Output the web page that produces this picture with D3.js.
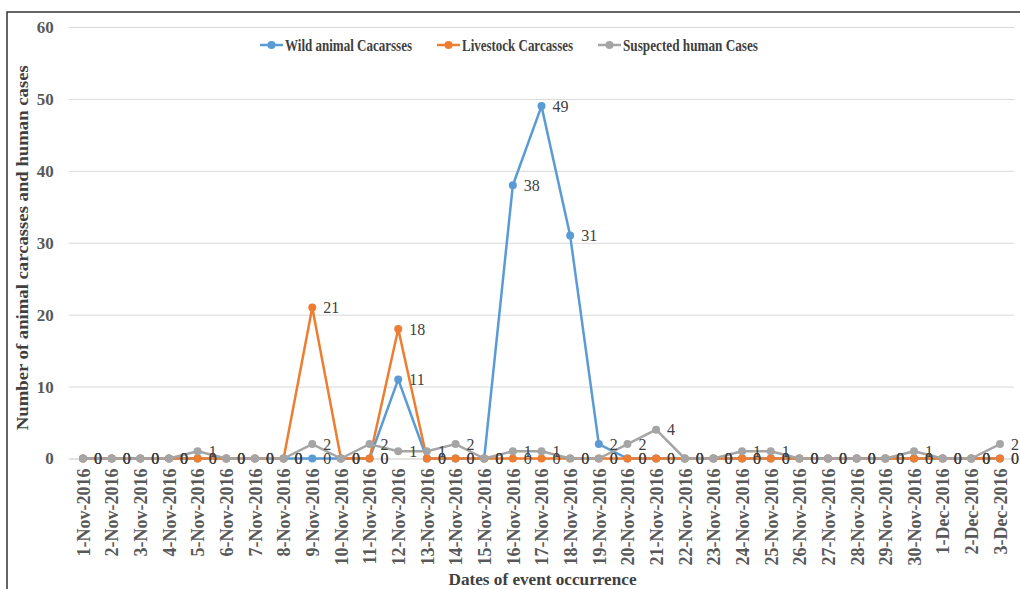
<!DOCTYPE html>
<html>
<head>
<meta charset="utf-8">
<script src="https://cdn.jsdelivr.net/npm/d3@7"></script>
<style>
  body { margin: 0; background: #fff; }
  svg { display: block; }
</style>
</head>
<body>
<svg id="chart" width="1020" height="589"></svg>
<script>
// dates on the x axis
var dates = [
    "1-Nov-2016", "2-Nov-2016", "3-Nov-2016", "4-Nov-2016", "5-Nov-2016",
    "6-Nov-2016", "7-Nov-2016", "8-Nov-2016", "9-Nov-2016", "10-Nov-2016",
    "11-Nov-2016", "12-Nov-2016", "13-Nov-2016", "14-Nov-2016", "15-Nov-2016",
    "16-Nov-2016", "17-Nov-2016", "18-Nov-2016", "19-Nov-2016", "20-Nov-2016",
    "21-Nov-2016", "22-Nov-2016", "23-Nov-2016", "24-Nov-2016", "25-Nov-2016",
    "26-Nov-2016", "27-Nov-2016", "28-Nov-2016", "29-Nov-2016", "30-Nov-2016",
    "1-Dec-2016", "2-Dec-2016", "3-Dec-2016"
];

var wildAnimal = [0, 0, 0, 0, 0, 0, 0, 0, 0, 0, 0, 11, 0, 0, 0, 38, 49, 31, 2, 0,
                  0, 0, 0, 0, 0, 0, 0, 0, 0, 0, 0, 0, 0];
var livestock  = [0, 0, 0, 0, 0, 0, 0, 0, 21, 0, 0, 18, 0, 0, 0, 0, 0, 0, 0, 0,
                  0, 0, 0, 0, 0, 0, 0, 0, 0, 0, 0, 0, 0];
var human      = [0, 0, 0, 0, 1, 0, 0, 0, 2, 0, 2, 1, 1, 2, 0, 1, 1, 0, 0, 2,
                  4, 0, 0, 1, 1, 0, 0, 0, 0, 1, 0, 0, 2];

var seriesNames = ["Wild animal Cacarsses", "Livestock Carcasses", "Suspected human Cases"];
var seriesColors = ["#5B9BD5", "#ED7D31", "#A5A5A5"];
var yTicks = [0, 10, 20, 30, 40, 50, 60];

d3.select(window).on("load", init);

function init() {

    var svg = d3.select("#chart");
    var serif = "'Liberation Serif', 'Times New Roman', serif";

    svg.append("rect")
        .attr("width", 1020).attr("height", 589)
        .attr("fill", "#fff");

    // outer frame (only left and top edges are in view)
    svg.append("rect")
        .attr("x", 7).attr("y", 12)
        .attr("width", 1040).attr("height", 620)
        .attr("fill", "none")
        .attr("stroke", "#333")
        .attr("stroke-width", 1.5);

    var plotLeft = 68.7, plotRight = 1014.3, plotTop = 27, plotBottom = 458.5;

    var x = d3.scalePoint()
        .domain(dates)
        .range([plotLeft, plotRight])
        .padding(0.5);

    var y = d3.scaleLinear()
        .domain([0, 60])
        .range([plotBottom, plotTop]);

    // y axis with gridlines
    var yAxis = svg.append("g")
        .attr("transform", "translate(" + plotLeft + ",0)")
        .call(d3.axisLeft(y)
            .tickValues(yTicks)
            .tickSize(-(plotRight - plotLeft))
            .tickPadding(15));
    yAxis.select(".domain").remove();
    yAxis.selectAll(".tick line").attr("stroke", "#D9D9D9").attr("stroke-width", 1);
    yAxis.selectAll(".tick text")
        .attr("fill", "#595959")
        .style("font-family", serif)
        .style("font-size", "17px")
        .style("font-weight", "bold");

    // x axis
    var xAxis = svg.append("g")
        .attr("transform", "translate(0," + plotBottom + ")")
        .call(d3.axisBottom(x).tickSize(0));
    xAxis.select(".domain").attr("stroke", "#D9D9D9");
    xAxis.selectAll(".tick text")
        .attr("transform", "rotate(-90)")
        .attr("x", -10)
        .attr("y", 0)
        .attr("dy", "0.35em")
        .attr("fill", "#595959")
        .style("text-anchor", "end")
        .style("font-family", serif)
        .style("font-size", "18px")
        .style("font-weight", "bold");

    // series, drawn in order so the grey one sits on top
    var allSeries = [wildAnimal, livestock, human];
    var line = d3.line()
        .x(function(d, i) { return x(dates[i]); })
        .y(function(d) { return y(d); });

    allSeries.forEach(function(values, s) {
        var g = svg.append("g");
        g.append("path")
            .datum(values)
            .attr("d", line)
            .attr("fill", "none")
            .attr("stroke", seriesColors[s])
            .attr("stroke-width", 2.5)
            .attr("stroke-linejoin", "round");
        g.selectAll("circle")
            .data(values)
            .enter()
            .append("circle")
            .attr("cx", function(d, i) { return x(dates[i]); })
            .attr("cy", function(d) { return y(d); })
            .attr("r", 4)
            .attr("fill", seriesColors[s]);
    });

    // data labels on top of everything
    allSeries.forEach(function(values) {
        svg.append("g")
            .selectAll("text")
            .data(values)
            .enter()
            .append("text")
            .attr("x", function(d, i) { return x(dates[i]) + 11; })
            .attr("y", function(d) { return y(d); })
            .attr("dy", "0.35em")
            .attr("fill", "#404040")
            .style("font-family", serif)
            .style("font-size", "16px")
            .text(function(d) { return d; });
    });

    // legend
    var legendX = [260, 437, 598];
    var legendW = [127, 111, 135];
    var legend = svg.append("g");
    seriesNames.forEach(function(name, s) {
        var lx = legendX[s];
        legend.append("line")
            .attr("x1", lx).attr("x2", lx + 23)
            .attr("y1", 45).attr("y2", 45)
            .attr("stroke", seriesColors[s])
            .attr("stroke-width", 2.5);
        legend.append("circle")
            .attr("cx", lx + 11.5).attr("cy", 45)
            .attr("r", 4)
            .attr("fill", seriesColors[s]);
        legend.append("text")
            .attr("x", lx + 25).attr("y", 45)
            .attr("dy", "0.35em")
            .attr("fill", "#404040")
            .attr("textLength", legendW[s])
            .attr("lengthAdjust", "spacingAndGlyphs")
            .style("font-family", serif)
            .style("font-size", "17px")
            .style("font-weight", "bold")
            .text(name);
    });

    // axis titles
    svg.append("text")
        .attr("transform", "translate(28," + ((plotTop + plotBottom) / 2 + 5) + ") rotate(-90)")
        .attr("text-anchor", "middle")
        .attr("fill", "#404040")
        .attr("textLength", 365)
        .attr("lengthAdjust", "spacingAndGlyphs")
        .style("font-family", serif)
        .style("font-size", "16px")
        .style("font-weight", "bold")
        .text("Number of animal carcasses and human cases");

    svg.append("text")
        .attr("x", (plotLeft + plotRight) / 2 + 1)
        .attr("y", 585)
        .attr("text-anchor", "middle")
        .attr("fill", "#404040")
        .attr("textLength", 188)
        .attr("lengthAdjust", "spacingAndGlyphs")
        .style("font-family", serif)
        .style("font-size", "16px")
        .style("font-weight", "bold")
        .text("Dates of event occurrence");
}
</script>
</body>
</html>
